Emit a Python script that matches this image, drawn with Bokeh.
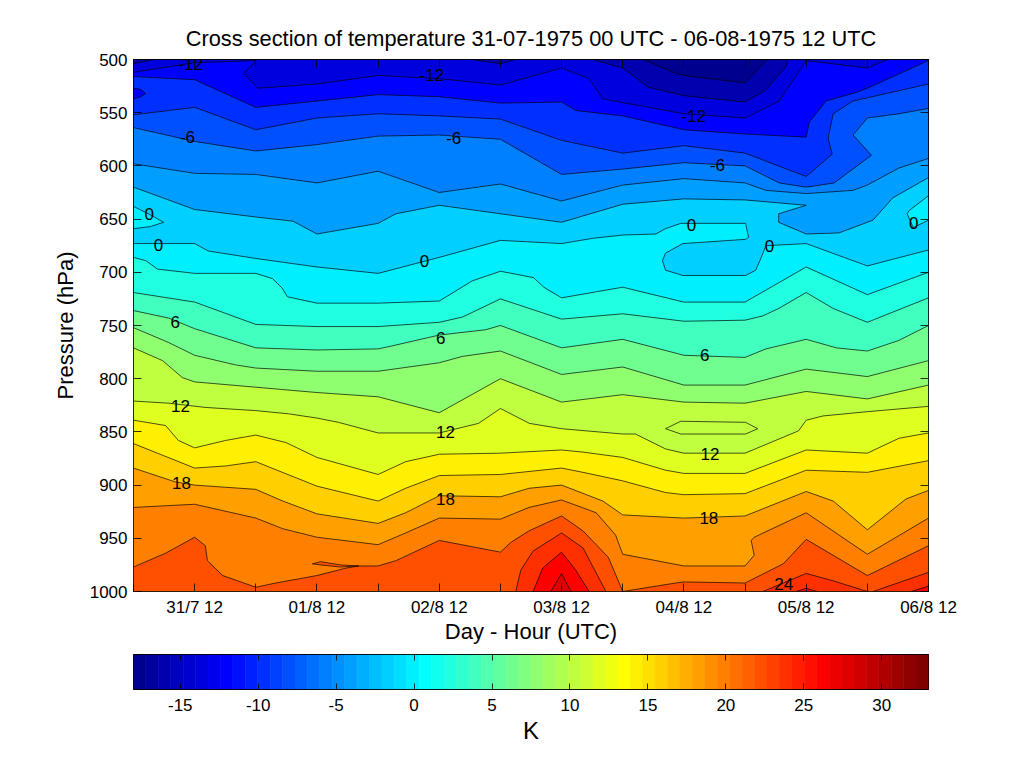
from bokeh.plotting import figure
from bokeh.layouts import column
from bokeh.models import Range1d, LinearAxis, FixedTicker
from bokeh.core.properties import value
from bokeh.embed import file_html
from bokeh.resources import INLINE
import math

TITLE = "Cross section of temperature 31-07-1975 00 UTC - 06-08-1975 12 UTC"
FONT = "Liberation Sans"
T_MIN, T_MAX = -18, 33

# isotherms: hour since 31/7 00 UTC, pressure in hPa
m16_h = [0, 100, 106.4, 108, 120, 124.1, 124.9, 156]
m16_p = [500, 500, 513, 515, 522, 501, 500, 500]
m14_h = [0, 3.9, 66.5, 72, 75, 90, 96, 101, 108, 120, 124, 128, 128.4, 156]
m14_p = [504, 500, 500, 504, 500, 500, 508, 526, 534, 540, 529, 507, 500, 500]
m12_h = [0, 5.3, 12, 24, 21.6, 24.4, 36, 48, 60, 72, 84, 89.4, 92.1, 108, 120, 126.7, 132, 144, 148, 156]
m12_p = [512, 508, 503, 501, 513, 527, 523, 515, 518, 524, 508, 518, 537, 551, 555, 539, 501, 508, 500, 500]
m10_h = [0, 12, 24, 36, 48, 60, 72, 84, 86.8, 96, 108, 120, 132, 132.6, 135.9, 141.8, 144, 156]
m10_p = [516, 519, 545, 539, 533, 535, 541, 540, 548, 553, 566, 570, 573, 559, 539, 531, 527, 501]
m8_h = [0, 12, 24, 36, 48, 60, 72, 84, 96, 108, 120, 132, 137.1, 136.3, 137.3, 141.2, 144, 147.7, 156]
m8_p = [552, 545, 566, 555, 551, 553, 556, 576, 588, 581, 588, 610, 589, 574, 551, 539, 536, 532, 523]
m6_h = [0, 12, 24, 36, 48, 60, 72, 84, 96, 108, 120, 126.7, 132, 137.5, 144.8, 141.2, 144, 150.2, 156]
m6_p = [564, 577, 586, 580, 572, 571, 575, 608, 603, 597, 600, 616, 620, 616, 590, 571, 555, 551, 546]
m4_h = [0, 12, 24, 36, 48, 60, 72, 84, 96, 108, 120, 124.1, 132, 141.2, 144, 150.2, 156]
m4_p = [598, 607, 608, 616, 605, 625, 617, 633, 618, 612, 616, 623, 626, 623, 618, 602, 593]
m2_h = [0, 12, 24, 31.3, 36, 48, 51.5, 60, 72, 84, 96, 108, 120, 132, 126.6, 126.6, 132, 138.4, 145.1, 149, 156]
m2_p = [620, 641, 648, 652, 664, 654, 645, 637, 645, 653, 636, 631, 632, 637, 645, 653, 664, 663, 651, 630, 611]
t0_h = [0, 12, 14.7, 24, 36, 48, 60, 72, 84, 90.2, 96, 102.5, 104.4, 107.4, 120.1, 120.7, 120.1, 107.8, 104.4, 103.8, 104.4, 107.8, 120.1, 122.1, 123.1, 124.1, 132, 144, 156]
t0_p = [673, 673, 680, 687, 695, 701, 686, 670, 673, 668, 665, 664, 659, 654, 654, 667, 669, 673, 682, 689, 698, 703, 703, 698, 687, 675, 673, 694, 679]
t2_h = [0, 2.4, 4.7, 12, 24, 27.3, 29.2, 30.2, 36, 48, 60, 66.5, 72, 78.5, 80.5, 84, 96, 108, 120, 132, 144, 156]
t2_p = [686, 689, 697, 701, 701, 706, 715, 723, 729, 729, 727, 708, 699, 705, 714, 724, 714, 728, 728, 695, 721, 700]
t4_h = [0, 12, 24, 36, 48, 60, 64.6, 72, 84, 96, 108, 120, 123.5, 126.6, 132, 137.3, 144, 156]
t4_p = [719, 728, 749, 751, 751, 747, 742, 725, 744, 739, 746, 745, 741, 734, 719, 734, 747, 724]
t6_h = [0, 6.9, 12, 24, 36, 48, 50.9, 60, 69.1, 72, 84, 96, 108, 120, 124.1, 132, 137.9, 144, 150.2, 156]
t6_p = [736, 743, 753, 771, 773, 772, 769, 759, 754, 750, 771, 763, 778, 780, 772, 763, 771, 774, 764, 750]
t8_h = [0, 6.9, 12, 20, 24, 36, 48, 60, 64.6, 72, 84, 96, 108, 120, 132, 144, 156]
t8_p = [752, 766, 778, 787, 790, 793, 793, 785, 779, 774, 796, 789, 806, 806, 791, 798, 783]
t10_h = [0, 5.7, 9.6, 12, 24, 36, 48, 60, 72, 84, 96, 108, 120, 132, 144, 156]
t10_p = [771, 783, 799, 803, 808, 813, 817, 832, 800, 822, 815, 822, 823, 812, 819, 806]
t12_h = [0, 6.9, 14.1, 24, 30.4, 36, 40.2, 48, 60, 67.7, 72, 77.7, 84, 96, 98.5, 104.4, 108, 120, 130.5, 132, 135.3, 144, 156]
t12_p = [821, 823, 827, 830, 833, 837, 841, 851, 851, 842, 828, 842, 847, 852, 852, 866, 870, 870, 849, 839, 835, 831, 826]
t14_h = [0, 6.3, 8.8, 12, 18.1, 24, 29.9, 36, 48, 53.4, 60, 72, 84, 88.2, 96, 104.4, 108, 120, 132, 144, 150.2, 156]
t14_p = [839, 844, 858, 865, 858, 853, 860, 874, 890, 878, 871, 870, 867, 869, 874, 886, 889, 889, 867, 870, 856, 851]
t16_h = [0, 12, 18.1, 24, 36, 48, 53.4, 60, 72, 84, 88.2, 96, 104.4, 108, 120, 132, 144, 156]
t16_p = [861, 884, 882, 878, 901, 915, 903, 891, 890, 884, 888, 896, 907, 909, 908, 886, 888, 877]
t18_h = [0, 8.2, 12, 24, 29.3, 36, 48, 53.4, 60, 72, 77.6, 84, 92.1, 96, 108, 120, 132, 137.3, 144, 151.6, 156]
t18_p = [884, 897, 900, 904, 915, 927, 936, 926, 910, 911, 903, 900, 915, 928, 931, 929, 906, 915, 942, 913, 905]
t20_h = [0, 12, 24, 29.3, 36, 48, 53.4, 60, 72, 77.6, 84, 90.8, 94.6, 96, 108, 120, 121.8, 121.2, 121.8, 132, 144, 156]
t20_p = [921, 918, 931, 941, 949, 956, 945, 931, 932, 921, 914, 926, 947, 965, 976, 976, 966, 952, 949, 926, 965, 931]
t22_h = [0, 6.3, 12, 14.1, 14.5, 17.5, 24, 27.9, 36, 41.7, 44.2, 48, 51.5, 60, 72, 74, 77.6, 84, 88.2, 93.2, 96, 106.4, 108, 120, 127.5, 132, 144, 156]
t22_p = [977, 964, 949, 957, 971, 985, 996, 992, 985, 978, 976, 976, 971, 952, 963, 954, 943, 929, 943, 968, 1000, 992, 991, 992, 974, 951, 985, 957]
t24_h = [0, 75, 76, 78.4, 84, 88.2, 92.7, 123.5, 132, 137.3, 144, 145.1, 156]
t24_p = [1000, 1000, 980, 962, 945, 959, 1000, 1000, 983, 990, 1000, 1000, 982]
t26_h = [0, 78.4, 80.3, 84, 86.8, 89.4, 130, 132, 134.1, 152.6, 156]
t26_p = [1000, 1000, 978, 963, 980, 1000, 1000, 997, 1000, 1000, 995]
t28_h = [0, 81.9, 84, 85.8, 156]
t28_p = [1000, 1000, 983, 1000, 1000]

# closed pockets: hour, pressure
pocket_m10_h = [0, 1.4, 2.4, 1.4, 0]
pocket_m10_p = [527, 528, 532, 535, 537]
pocket_left0_h = [0, 3.3, 5.9, 3.3, 0]
pocket_left0_p = [638, 646, 653, 657, 659]
pocket_right0_h = [156, 152.2, 151.8, 153, 156]
pocket_right0_p = [628, 642, 645, 658, 651]
pocket_t12_h = [104.4, 107.4, 120.1, 122.5, 120.1, 107.4]
pocket_t12_p = [847, 840, 841, 847, 852, 852]
pocket_t22_h = [35.1, 36.7, 40.6, 44.2, 40.6, 36.7]
pocket_t22_p = [974, 972, 975, 976, 977, 975]

isotherms = [
    (-16, m16_h, m16_p), (-14, m14_h, m14_p), (-12, m12_h, m12_p), (-10, m10_h, m10_p),
    (-8, m8_h, m8_p), (-6, m6_h, m6_p), (-4, m4_h, m4_p), (-2, m2_h, m2_p),
    (0, t0_h, t0_p), (2, t2_h, t2_p), (4, t4_h, t4_p), (6, t6_h, t6_p), (8, t8_h, t8_p),
    (10, t10_h, t10_p), (12, t12_h, t12_p), (14, t14_h, t14_p), (16, t16_h, t16_p),
    (18, t18_h, t18_p), (20, t20_h, t20_p), (22, t22_h, t22_p), (24, t24_h, t24_p),
    (26, t26_h, t26_p), (28, t28_h, t28_p),
]
# painted after the isotherm of the first value, with the colour of the second
pockets = [
    (-10, -12, pocket_m10_h, pocket_m10_p),
    (0, 0, pocket_left0_h, pocket_left0_p),
    (0, 0, pocket_right0_h, pocket_right0_p),
    (12, 10, pocket_t12_h, pocket_t12_p),
    (22, 22, pocket_t22_h, pocket_t22_p),
]

label_text = ["-12", "-12", "-12", "-6", "-6", "-6", "0", "0", "0", "0", "0", "0",
              "6", "6", "6", "12", "12", "12", "18", "18", "18", "24"]
label_h = [11.2, 58.5, 109.9, 10.6, 62.8, 114.6, 3.1, 4.9, 57.1, 109.5, 124.8, 153.1,
           8.2, 60.3, 112.1, 9.2, 61.2, 113.1, 9.4, 61.2, 112.9, 127.6]
label_p = [504, 515, 553, 573, 574, 599, 645, 674, 689, 656, 675, 654,
           747, 762, 778, 826, 850, 871, 898, 913, 931, 993]

x_ticks = list(range(0, 157, 12))
x_labels = {12: "31/7 12", 36: "01/8 12", 60: "02/8 12", 84: "03/8 12",
            108: "04/8 12", 132: "05/8 12", 156: "06/8 12"}
y_ticks = list(range(500, 1001, 50))
cbar_ticks = [-15, -10, -5, 0, 5, 10, 15, 20, 25, 30]


def jet64():
    m, n = 64, 16
    u = [(i + 1) / n for i in range(n)] + [1.0] * (n - 1) + [(n - i) / n for i in range(n)]
    g = [n // 2 + i + 1 for i in range(len(u))]
    cols = [[0.0, 0.0, 0.0] for _ in range(m)]
    for i, v in enumerate(u):
        ri, gi, bi = g[i] + n, g[i], g[i] - n
        if ri <= m:
            cols[ri - 1][0] = v
        if gi <= m:
            cols[gi - 1][1] = v
        if bi >= 1:
            cols[bi - 1][2] = v
    return ["#%02x%02x%02x" % tuple(round(c * 255) for c in col) for col in cols]


JET = jet64()


def colour(t):
    return JET[min(63, int(math.floor((t - T_MIN) / (T_MAX - T_MIN) * 64 + 1e-9)))]


def style_axis(ax, size="17px"):
    ax.major_tick_in = 8
    ax.major_tick_out = 0
    ax.minor_tick_line_color = None
    ax.minor_tick_in = 0
    ax.minor_tick_out = 0
    ax.axis_line_color = "#000000"
    ax.axis_line_width = 0.8
    ax.major_tick_line_color = "#000000"
    ax.major_tick_line_width = 0.8
    ax.major_label_text_font = FONT
    ax.major_label_text_font_size = size
    ax.major_label_text_color = "#000000"
    ax.axis_label_text_font = FONT
    ax.axis_label_text_font_style = "normal"
    ax.axis_label_text_color = "#000000"


p = figure(width=1008, height=653, frame_width=795, frame_height=532,
           x_range=Range1d(0, 156), y_range=Range1d(1000, 500),
           output_backend="svg", toolbar_location=None,
           min_border_left=133, min_border_right=80, min_border_top=59, min_border_bottom=62,
           title=TITLE)
p.grid.visible = False
p.title.text_font = FONT
p.title.text_font_style = "normal"
p.title.text_font_size = "21.8px"
p.title.text_color = "#000000"
p.title.align = "center"
p.title.offset = -2
p.title.standoff = 17
p.outline_line_color = "#000000"
p.background_fill_color = colour(-18)

for level, hs, ps in isotherms:
    p.patch(hs + [156, 0], ps + [1000, 1000], fill_color=colour(level), line_color=None)
    for after, col, bh, bp in pockets:
        if after == level:
            p.patch(bh, bp, fill_color=colour(col), line_color=None)

for level, hs, ps in isotherms:
    xs, ys = [], []
    run_x, run_y = [hs[0]], [ps[0]]
    for i in range(1, len(hs)):
        same_edge = (ps[i] == ps[i - 1]) and ps[i] in (500, 1000)
        if same_edge:
            if len(run_x) > 1:
                xs.append(run_x)
                ys.append(run_y)
            run_x, run_y = [hs[i]], [ps[i]]
        else:
            run_x.append(hs[i])
            run_y.append(ps[i])
    if len(run_x) > 1:
        xs.append(run_x)
        ys.append(run_y)
    p.multi_line(xs, ys, line_color="#000000", line_width=0.8, line_alpha=0.85)

for bh, bp in [(pocket_m10_h, pocket_m10_p), (pocket_left0_h, pocket_left0_p),
               (pocket_right0_h, pocket_right0_p), (pocket_t12_h, pocket_t12_p),
               (pocket_t22_h, pocket_t22_p)]:
    closed = bh[0] != bh[-1] or bp[0] != bp[-1]
    edge = bh[0] in (0, 156)
    p.line(bh + bh[:1] if (closed and not edge) else bh, bp + bp[:1] if (closed and not edge) else bp,
           line_color="#000000", line_width=0.8, line_alpha=0.85)

p.text(label_h, label_p, text=label_text, text_font=value(FONT), text_font_size="17px",
       text_color="#000000", text_align="center", text_baseline="middle")

xa = p.below[0]
xa.ticker = FixedTicker(ticks=x_ticks)
xa.major_label_overrides = {t: x_labels.get(t, "") for t in x_ticks}
xa.axis_label = "Day - Hour (UTC)"
xa.axis_label_text_font_size = "22px"
xa.axis_label_standoff = -1
style_axis(xa)
xa.major_label_standoff = 6

ya = p.left[0]
ya.ticker = FixedTicker(ticks=y_ticks)
ya.axis_label = "Pressure (hPa)"
ya.axis_label_text_font_size = "22px"
ya.axis_label_standoff = 9
style_axis(ya)
ya.major_label_standoff = 6

top = LinearAxis(ticker=FixedTicker(ticks=x_ticks), major_label_overrides={t: "" for t in x_ticks})
style_axis(top)
p.add_layout(top, "above")
right = LinearAxis(ticker=FixedTicker(ticks=y_ticks), major_label_overrides={t: "" for t in y_ticks})
style_axis(right)
p.add_layout(right, "right")

c = figure(width=1008, height=96, frame_width=795, frame_height=35,
           x_range=Range1d(T_MIN, T_MAX), y_range=Range1d(0, 1),
           output_backend="svg", toolbar_location=None,
           min_border_left=133, min_border_right=80, min_border_top=1, min_border_bottom=60)
c.grid.visible = False
c.yaxis.visible = False
c.outline_line_color = "#000000"
step = (T_MAX - T_MIN) / 64
c.quad(left=[T_MIN + i * step for i in range(64)], right=[T_MIN + (i + 1) * step for i in range(64)],
       bottom=0, top=1, fill_color=JET, line_color=JET, line_width=0.6)
ca = c.below[0]
ca.ticker = FixedTicker(ticks=cbar_ticks)
ca.major_label_overrides = {t: str(t) for t in cbar_ticks}
ca.axis_label = "K"
ca.axis_label_text_font_size = "24px"
ca.axis_label_standoff = 3
style_axis(ca)
ca.major_tick_in = 6
ca.major_label_standoff = 9
ctop = LinearAxis(ticker=FixedTicker(ticks=cbar_ticks), major_label_overrides={t: "" for t in cbar_ticks})
style_axis(ctop)
ctop.major_tick_in = 6
c.add_layout(ctop, "above")

page = column(p, c, spacing=0)
open("out.html", "w").write(file_html(page, INLINE))
